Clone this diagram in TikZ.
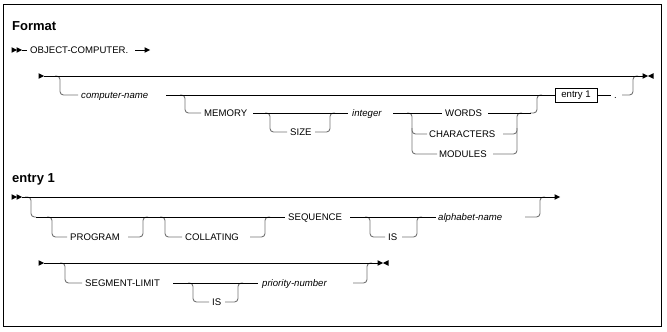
\documentclass[tikz,border=0pt]{standalone}
\usepackage{fontspec}
\setmainfont{Liberation Sans}
\newcommand\tipR[1]{\fill #1 -- ++(-5.5,-2.8) -- ++(0,5.6) -- cycle;}
\newcommand\tipL[1]{\fill #1 -- ++(5.5,-2.8) -- ++(0,5.6) -- cycle;}
\begin{document}
\begin{tikzpicture}[x=1pt,y=-1pt,
  main/.style={line width=0.9pt, draw=black},
  br/.style={line width=0.9pt, draw=black!55, rounded corners=3.5pt},
  kw/.style={font=\fontsize{9.6}{10}\selectfont, inner sep=0pt, anchor=west, text height=6.8pt, text depth=0pt},
  var/.style={kw, font=\fontsize{9.6}{10}\selectfont\itshape},
  head/.style={font=\fontsize{13}{14}\selectfont\bfseries, inner sep=0pt, anchor=west, text height=9.3pt, text depth=0pt}]
\useasboundingbox (0,0) rectangle (667,332);
\draw[line width=1pt] (3.5,4.5) rectangle (661.5,326.5);

% ---------- Format ----------
\node[head] (fmt) at (12,26) {Format};
\tipR{(17,50)} \tipR{(22,50)}
\draw[main] (22,50) -- (27,50);
\node[kw] (obj) at (30,50) {OBJECT-COMPUTER.};
\draw[main] (135,50) -- (146,50); \tipR{(150,50)}

% branches (drawn first)
\draw[br] (55,76) -- (60,76) -- (60,95) -- (78,95);
\draw[br] (180,95) -- (185,95) -- (185,113) -- (201,113);
\draw[br] (265,113) -- (270,113) -- (270,132) -- (287,132);
\draw[br] (315,132) -- (330,132) -- (330,113) -- (335,113);
\draw[br] (407,113) -- (412,113) -- (412,154) -- (437,154);
\draw[br] (412,128) -- (412,134) -- (427,134);
\draw[br] (493,154) -- (517,154) -- (517,113) -- (522,113);
\draw[br] (503,134) -- (517,134) -- (517,128);
\draw[br] (530,113) -- (537,113) -- (537,95) -- (542,95);
\draw[br] (622,95) -- (633,95) -- (633,76) -- (638,76);

% main lines
\tipR{(44,76)}
\draw[main] (44,76) -- (643,76);
\tipR{(648,76)} \tipL{(648,76)}
\node[var] (cn) at (81,95) {computer-name};
\node[draw, line width=0.8pt, minimum width=42pt, minimum height=14pt, inner sep=0pt,
      font=\fontsize{9.6}{10}\selectfont] (ent) at (576,95) {entry 1};
\draw[main] (166,95) -- (ent.west);
\node[kw] (mem) at (204,113) {MEMORY};
\draw[main] (253,113) -- (348,113);
\node[kw] (size) at (290,132) {SIZE};
\node[var] (int) at (352,113) {integer};
\draw[main] (393,113) -- (442,113);
\node[kw] (words) at (445,113) {WORDS};
\node[kw] (chars) at (429,134) {CHARACTERS};
\node[kw] (mods) at (439,154) {MODULES};
\draw[main] (488,113) -- (531,113);
\draw[main] (ent.east) -- (611,95);
\node[kw] (dot) at (614,95) {.};

% ---------- entry 1 ----------
\node[head] (e1h) at (12,178) {entry 1};
\draw[br] (25,197) -- (31,197) -- (31,217) -- (36,217);
\draw[br] (47,217) -- (52,217) -- (52,237) -- (67,237);
\draw[br] (128,237) -- (143,237) -- (143,217) -- (148,217);
\draw[br] (160,217) -- (165,217) -- (165,237) -- (182,237);
\draw[br] (250,237) -- (265,237) -- (265,217) -- (270,217);
\draw[br] (365,217) -- (370,217) -- (370,237) -- (385,237);
\draw[br] (402,237) -- (417,237) -- (417,217) -- (422,217);
\draw[br] (525,217) -- (540,217) -- (540,197) -- (545,197);

\tipR{(17,197)} \tipR{(22,197)}
\draw[main] (22,197) -- (555,197); \tipR{(560,197)}
\draw[main] (36,217) -- (285,217);
\node[kw] (prog) at (70,237) {PROGRAM};
\node[kw] (coll) at (185,237) {COLLATING};
\node[kw] (seq) at (288,217) {SEQUENCE};
\draw[main] (350,217) -- (436,217);
\node[kw] (is1) at (388,237) {IS};
\node[var] (alph) at (438,217) {alphabet-name};

% segment-limit
\draw[br] (60,263) -- (65,263) -- (65,283) -- (82,283);
\draw[br] (188,283) -- (193,283) -- (193,302) -- (209,302);
\draw[br] (225,302) -- (238,302) -- (238,283) -- (243,283);
\draw[br] (353,283) -- (367,283) -- (367,263) -- (372,263);
\tipR{(44,263)}
\draw[main] (44,263) -- (378,263);
\tipR{(383,263)} \tipL{(383,263)}
\node[kw] (seg) at (85,283) {SEGMENT-LIMIT};
\draw[main] (173,283) -- (258,283);
\node[kw] (is2) at (212,302) {IS};
\node[var] (prio) at (262,283) {priority-number};
\end{tikzpicture}
\end{document}
